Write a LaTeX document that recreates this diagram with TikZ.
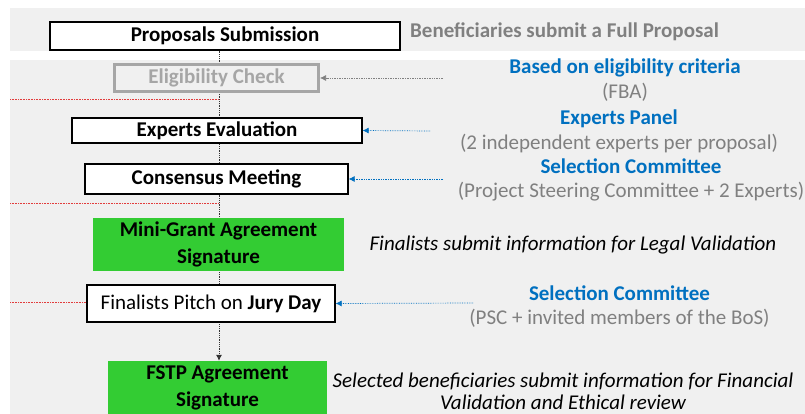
\documentclass[tikz,border=0pt]{standalone}
\usepackage{fontspec}
\setmainfont{Carlito}
\usetikzlibrary{positioning,arrows.meta,backgrounds}
\definecolor{bggray}{RGB}{240,240,240}
\definecolor{boxgreen}{RGB}{51,204,51}
\definecolor{txtblue}{RGB}{0,112,192}
\definecolor{txtgray}{RGB}{128,128,128}
\definecolor{rulegray}{RGB}{166,166,166}
\definecolor{dotred}{RGB}{225,60,60}

\begin{document}
\begin{tikzpicture}[x=1pt, y=-1pt, %
        stage/.style={draw, line width=1.3pt, fill=white, inner sep=0pt,
          font=\fontsize{21}{25}\selectfont\bfseries},
        grant/.style={fill=boxgreen, align=center, inner sep=0pt,
          font=\fontsize{21}{27}\selectfont\bfseries},
        note/.style={align=center, text=txtgray, inner sep=0pt,
          font=\fontsize{21}{24.5}\selectfont},
        spine/.style={densely dotted, line width=0.8pt, black!80, -{Latex[length=6pt,width=6pt]}},
        feed/.style={densely dotted, line width=0.7pt, txtblue, -{Latex[length=6pt,width=6pt]}},
        cutline/.style={dash pattern=on 0.8pt off 0.8pt, line width=0.7pt, dotred}
        ]
        \useasboundingbox (0,0) rectangle (805,414);
        \node[stage, minimum width=350pt, minimum height=28pt] (prop) at (225,36) {Proposals Submission};
        \node[stage, draw=rulegray, line width=3pt, fill=bggray, text=rulegray,
          minimum width=204pt, minimum height=27pt] (elig) at (216.5,78) {Eligibility Check};
        \node[stage, minimum width=290pt, minimum height=25pt] (expe) at (217,130.5) {Experts Evaluation};
        \node[stage, minimum width=263pt, minimum height=30pt] (cons) at (216.5,179) {Consensus Meeting};
        \node[grant, minimum width=251pt, minimum height=53pt] (mini) at (218.5,244.5) {Mini-Grant Agreement\\Signature};
        \node[stage, font=\fontsize{21}{25}\selectfont, minimum width=248pt, minimum height=37pt]
          (jury) at (211,303.5) {Finalists Pitch on \textbf{Jury Day}};
        \node[grant, minimum width=219pt, minimum height=54pt] (fstp) at (217.5,388) {FSTP Agreement\\Signature};

        \node[note, font=\fontsize{21}{25}\selectfont\bfseries, anchor=west] (bene) at (410,32) {Beneficiaries submit a Full Proposal};
        \node[note] (crit) at (625,80) {\textcolor{txtblue}{\bfseries Based on eligibility criteria}\\(FBA)};
        \node[note] (panel) at (619,131.5) {\textcolor{txtblue}{\bfseries Experts Panel}\\(2 independent experts per proposal)};
        \node[note] (psc) at (631,180) {\textcolor{txtblue}{\bfseries Selection Committee}\\(Project Steering Committee + 2 Experts)};
        \node[note, text=black, font=\fontsize{21}{25}\selectfont\itshape] (legal) at (573,245) {Finalists submit information for Legal Validation};
        \node[note] (jurors) at (619.5,306.5) {\textcolor{txtblue}{\bfseries Selection Committee}\\(PSC + invited members of the BoS)};
        \node[note, text=black, font=\fontsize{21}{22}\selectfont\itshape] (finval) at (563,391.5)
          {Selected beneficiaries submit information for Financial\\Validation and Ethical review};

        \coordinate (sp) at (219,0);
        \coordinate (f1) at (443,78);
        \coordinate (f2) at (430,131);
        \coordinate (f3) at (443,179);
        \coordinate (f4) at (473,303);
        \begin{scope}[on background layer]
          \fill[bggray] (10,8) rectangle (805,51);
          \fill[bggray] (10,60) rectangle (805,414);
          \draw[spine] (prop.south -| sp) -- (fstp.north -| sp);
          \foreach \y in {99.5,203} {
            \draw[cutline] (10,\y) -- (sp |- 0,\y);
          }
          \coordinate (r3) at (10,302);
          \draw[cutline] (r3) -- (r3 -| jury.west);
        \end{scope}
        \draw[feed, gray] (f1) -- (elig.east);
        \draw[feed] (f2) -- (expe.east);
        \draw[feed] (f3) -- (cons.east);
        \draw[feed] (f4) -- (jury.east);
      \end{tikzpicture}
\end{document}
